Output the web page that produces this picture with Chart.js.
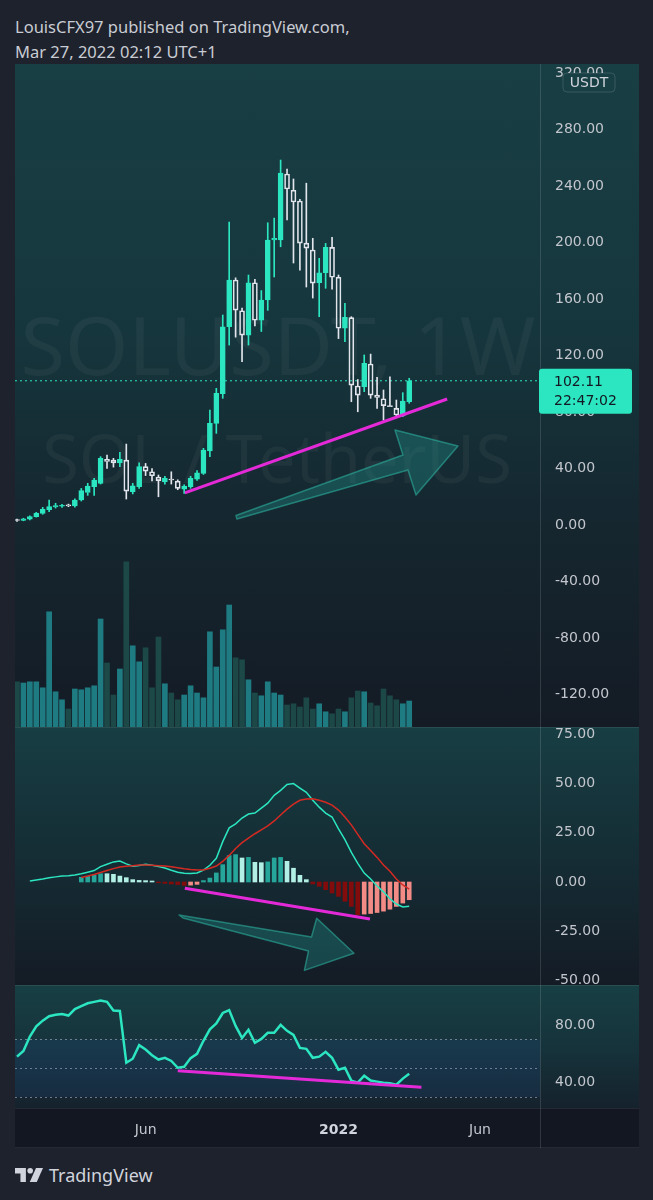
<!DOCTYPE html>
<html>
<head>
<meta charset="utf-8">
<title>SOLUSDT 1W</title>
<script src="https://cdn.jsdelivr.net/npm/chart.js@4.4.1/dist/chart.umd.min.js"></script>
<style>
  html, body { margin: 0; padding: 0; }
  body { width: 653px; height: 1200px; background: #1e222d; position: relative; overflow: hidden; font-family: 'Noto Sans', sans-serif; }
  #header { position: absolute; left: 15px; top: 14px; color: #c9ccd3; font-size: 16.5px; line-height: 25px; }
  .bg { position: absolute; left: 15px; width: 624px; }
  #priceBg { top: 64px; height: 663px; background: linear-gradient(180deg, #183f44 0%, #16363d 40%, #15262f 70%, #141b25 100%); }
  #macdBg { top: 727px; height: 258px; background: linear-gradient(180deg, #173e43 0%, #152d35 50%, #141b25 100%); }
  #rsiBg { top: 985px; height: 123px; background: linear-gradient(180deg, #173f43 0%, #16333b 50%, #15222d 100%); }
  #timeBg { top: 1108px; height: 40px; background: #131722; }
  .hline { position: absolute; left: 15px; width: 624px; height: 1px; background: rgba(255,255,255,0.08); }
  #vline { position: absolute; left: 540px; top: 64px; width: 1px; height: 1084px; background: rgba(255,255,255,0.13); }
  canvas { position: absolute; left: 15px; }
  #footer { position: absolute; left: 15px; top: 1161px; height: 28px; display: flex; align-items: center; color: #d1d4dc; font-size: 18px; }
  #footer svg { margin-right: 6px; }
</style>
</head>
<body>
<div id="header">LouisCFX97 published on TradingView.com,<br>Mar 27, 2022 02:12 UTC+1</div>

<div class="bg" id="priceBg"></div>
<div class="bg" id="macdBg"></div>
<div class="bg" id="rsiBg"></div>
<div class="bg" id="timeBg"></div>
<div class="hline" style="top:727px"></div>
<div class="hline" style="top:985px"></div>
<div class="hline" style="top:1108px"></div>
<div class="hline" style="top:1147px"></div>
<div id="vline"></div>

<canvas id="priceChart" width="624" height="663" style="top:64px"></canvas>
<canvas id="macdChart" width="624" height="258" style="top:727px"></canvas>
<canvas id="rsiChart" width="624" height="163" style="top:985px"></canvas>

<div id="footer">
  <svg width="28" height="14" viewBox="0 0 36 18">
    <path d="M0 0H14V18H7V7H0Z" fill="#d1d4dc"/>
    <circle cx="19.5" cy="3.6" r="3.6" fill="#d1d4dc"/>
    <path d="M27 0H36L28 18H19Z" fill="#d1d4dc"/>
  </svg>
  <span>TradingView</span>
</div>

<script>
// SOLUSDT weekly, index 0 = week of 18 Jan 2021, last = week of 21 Mar 2022
const opens  = [3.6, 3.3, 4.2, 5.9, 8.2, 10.8, 12.9, 13.3, 14.2, 13.5,
                17.7, 23.0, 27.1, 29.5, 46.5, 46.0, 44.0, 46.0, 23.6, 27.1,
                41.3, 37.7, 34.0, 30.7, 32.6, 31.1, 25.3, 27.1, 32.4, 36.6,
                52.4, 72.0, 93.0, 140.4, 173.5, 151.7, 134.5, 171.5, 145.0, 159.3,
                201.8, 201.8, 248.5, 237.0, 229.4, 199.6, 194.7, 171.5, 178.6, 196.6,
                175.4, 139.3, 146.8, 98.4, 97.9, 114.0, 92.0, 89.4, 84.5, 82.6,
                77.2, 87.3];
const highs  = [4.2, 4.8, 6.5, 9.0, 12.5, 17.7, 15.4, 14.7, 14.8, 18.5,
                25.9, 29.5, 33.0, 48.4, 49.6, 47.2, 51.5, 57.3, 29.5, 44.0,
                43.6, 40.0, 35.4, 34.5, 37.7, 32.0, 28.5, 34.5, 38.5, 54.3,
                81.4, 96.8, 148.7, 214.5, 175.0, 153.6, 177.0, 174.0, 166.0, 214.0,
                217.3, 258.4, 252.0, 245.0, 230.5, 242.0, 203.0, 188.8, 199.4, 203.7,
                177.0, 157.0, 147.5, 103.0, 120.4, 121.0, 104.6, 95.6, 105.0, 88.5,
                93.7, 103.9];
const lows   = [2.6, 3.0, 3.6, 5.6, 7.6, 9.5, 12.0, 12.5, 13.0, 12.7,
                17.0, 21.0, 21.0, 29.0, 40.0, 41.0, 41.3, 18.4, 22.0, 26.0,
                35.0, 31.3, 20.0, 29.0, 29.0, 25.0, 22.4, 26.0, 31.6, 35.8,
                48.4, 64.9, 89.7, 127.4, 133.0, 115.6, 127.4, 141.0, 137.0, 152.0,
                175.6, 197.0, 216.0, 185.5, 180.5, 168.5, 160.7, 147.5, 167.6, 166.9,
                132.0, 129.8, 87.3, 80.2, 94.4, 89.7, 82.6, 74.3, 83.8, 76.7,
                76.7, 86.2];
const closes = [3.2, 4.3, 5.9, 8.3, 11.1, 13.0, 13.8, 13.8, 13.5, 17.7,
                24.3, 27.6, 31.9, 47.2, 45.0, 43.9, 46.5, 24.0, 27.8, 41.3,
                38.2, 34.9, 31.4, 33.0, 31.9, 26.0, 27.6, 33.0, 37.0, 53.1,
                72.0, 93.2, 140.4, 173.5, 152.2, 134.5, 171.5, 145.0, 159.3, 201.8,
                203.0, 249.2, 237.9, 228.7, 199.6, 196.0, 171.3, 178.6, 196.6, 175.4,
                139.3, 147.0, 99.1, 92.0, 114.5, 92.0, 90.4, 84.5, 83.8, 77.9,
                87.8, 102.11];
// volume, millions of SOL
const volumesM = [11.3, 11.0, 11.3, 11.3, 9.8, 28.8, 8.8, 6.8, 4.5, 9.5,
                  9.3, 9.8, 10.3, 27.0, 16.0, 8.0, 14.5, 41.3, 20.3, 16.3,
                  19.8, 9.8, 22.5, 10.8, 8.5, 6.8, 8.0, 10.3, 8.5, 7.3,
                  23.8, 15.0, 24.3, 30.5, 17.3, 16.8, 11.8, 8.5, 7.8, 11.3,
                  8.5, 8.0, 5.5, 5.8, 5.0, 7.3, 4.5, 5.8, 3.8, 3.3,
                  4.5, 3.8, 7.3, 9.0, 8.8, 6.0, 5.3, 9.5, 7.8, 6.8,
                  5.8, 6.5];
const lastPrice = 102.11;
const countdown = '22:47:02';

// MACD (12, 26, 9)
const macdStart = 2;
const macdLine = [0.5, 1.0, 1.5, 2.1, 2.6, 3.0, 3.2, 3.5,
                  4.2, 5.0, 5.8, 7.8, 9.0, 10.2, 10.6, 9.2, 8.0, 8.4,
                  9.0, 8.5, 7.8, 7.1, 6.0, 5.0, 4.4, 4.3, 4.6, 6.0,
                  8.5, 12.0, 20.5, 27.5, 29.5, 32.5, 34.5, 35.0, 37.5, 40.0,
                  44.0, 46.5, 49.5, 50.0, 47.7, 45.5, 41.5, 38.0, 35.0, 33.0,
                  27.0, 21.5, 15.0, 9.5, 4.5, 1.5, -2.0, -5.0, -8.5, -11.2,
                  -12.7, -12.3];
const signalStart = 10;
const signalLine = [2.3, 3.0, 3.8, 4.8, 5.8, 6.8, 7.6, 8.0, 8.3, 8.6,
                    8.6, 8.5, 8.3, 8.1, 7.7, 7.2, 6.7, 6.3, 6.1, 6.1,
                    7.0, 8.1, 10.5, 13.5, 17.0, 20.0, 22.3, 24.5, 26.5, 28.5,
                    31.0, 34.0, 37.0, 39.5, 41.5, 42.1, 42.3, 41.5, 40.5, 39.0,
                    36.5, 33.0, 29.0, 24.2, 19.4, 16.0, 12.5, 8.6, 5.5, 1.5,
                    -1.5, -3.6];
const histStart = 10;
const histValues = [2.4, 2.9, 3.4, 4.2, 4.2, 3.9, 3.0, 2.2, 1.2, 0.8,
                    0.7, 0.5, -0.4, -0.7, -1.0, -1.3, -1.7, -1.6, -1.2, 0.7,
                    2.0, 4.6, 8.8, 13.4, 13.9, 12.2, 12.5, 10.0, 9.8, 10.2,
                    12.2, 12.5, 10.5, 7.0, 3.4, 1.2, -1.0, -2.2, -3.9, -5.6,
                    -7.3, -9.8, -12.4, -16.6, -16.3, -16.0, -15.5, -14.8, -13.8, -12.4,
                    -10.7, -9.0];

// RSI (14)
const rsiValues = [58, 62, 72, 79, 83, 86, 87, 87.6, 86.5, 91,
                   93, 95, 96, 97, 96, 90, 89.7, 53.8, 56.6, 66,
                   63, 59, 56, 57.2, 55, 50.3, 51, 57, 60, 69,
                   77, 81, 88.3, 90.3, 79.3, 71, 76.6, 67.6, 70.3, 74.5,
                   74.5, 80, 75.9, 73.1, 64.1, 63.4, 57.2, 58, 61.4, 57.2,
                   49, 50.3, 41.4, 40, 44.8, 41.4, 40.7, 40, 39.5, 38.6,
                   42.8, 46.2];
const rsiLevels = [70, 50, 30];

// axes
const priceTicks = [320, 280, 240, 200, 160, 120, 80, 40, 0, -40, -80, -120];
const macdTicks = [75, 50, 25, 0, -25, -50];
const rsiTicks = [80, 40];
const xTickPos = [20, 50, 72];
const xTickLabels = ['Jun', '2022', 'Jun'];
const xTickBold = [false, true, false];

// drawings (bar index, value)
const priceTrendX = [26.1, 66.9];
const priceTrendY = [22.7, 89.2];
const macdTrendX = [26.1, 54.9];
const macdTrendY = [-3.2, -18.8];
const rsiTrendX = [25.0, 62.9];
const rsiTrendY = [48.3, 36.8];
const arrowUpX = [34.06, 60.03, 58.79, 68.58, 62.05, 60.81, 34.21];
const arrowUpY = [6.73, 49.56, 67.26, 55.93, 21.24, 38.94, 4.25];
const arrowDownX = [25.19, 45.8, 46.61, 52.41, 44.70, 45.33, 25.82];
const arrowDownY = [-16.75, -27.9, -18.43, -36.19, -44.87, -35.03, -18.27];

const upColor = '#2be6c0';
const downColor = '#e2e5ec';
const magenta = '#e42ad8';
const labelColor = '#c3c6cd';
const xMin = -0.31, xMax = 81.34;

Chart.defaults.font.family = "'DejaVu Sans', sans-serif";
Chart.defaults.font.size = 14;
Chart.defaults.animation = false;
Chart.defaults.plugins.legend.display = false;
Chart.defaults.plugins.tooltip.enabled = false;

const idx = closes.map((c, i) => i);
const isUp = idx.map(i => closes[i] >= opens[i]);

function pts(xs, ys) {
    return xs.map((x, k) => ({ x: x, y: ys[k] }));
}

function series(start, values) {
    return values.map((v, k) => ({ x: start + k, y: v }));
}

function hiddenX() {
    return { type: 'linear', min: xMin, max: xMax, offset: false, display: false };
}

// label padding must not eat into the plot height
function noPadding(s) {
    s.paddingTop = 0;
    s.paddingBottom = 0;
    s.paddingLeft = 0;
    s.paddingRight = 0;
}

function rightAxis(min, max, ticks) {
    return {
        position: 'right',
        min: min,
        max: max,
        grid: { display: false, drawTicks: false },
        border: { display: false },
        afterBuildTicks: s => { s.ticks = ticks.map(v => ({ value: v })); },
        afterFit: s => { s.width = 99; noPadding(s); },
        ticks: { color: labelColor, padding: 15, autoSkip: false, callback: v => v.toFixed(2) }
    };
}

function roundBox(ctx, x, y, w, h, r) {
    ctx.beginPath();
    if (ctx.roundRect) ctx.roundRect(x, y, w, h, r);
    else ctx.rect(x, y, w, h);
}

function drawArrow(chart, yId, xs, ys) {
    const ctx = chart.ctx;
    const sx = chart.scales.x, sy = chart.scales[yId];
    ctx.save();
    ctx.beginPath();
    xs.forEach((v, k) => {
        const px = sx.getPixelForValue(v), py = sy.getPixelForValue(ys[k]);
        if (k === 0) ctx.moveTo(px, py); else ctx.lineTo(px, py);
    });
    ctx.closePath();
    ctx.fillStyle = 'rgba(38, 166, 154, 0.30)';
    ctx.fill();
    ctx.strokeStyle = 'rgba(45, 185, 165, 0.55)';
    ctx.lineWidth = 1.5;
    ctx.lineJoin = 'round';
    ctx.stroke();
    ctx.restore();
}

function fitText(ctx, text, cx, baseline, width) {
    ctx.font = "100px 'Noto Sans'";
    const size = 100 * width / ctx.measureText(text).width;
    ctx.font = size.toFixed(1) + "px 'Noto Sans'";
    ctx.fillText(text, cx, baseline);
}

const priceExtras = {
    id: 'priceExtras',
    beforeDatasetsDraw(chart) {
        const ctx = chart.ctx;
        ctx.save();
        ctx.fillStyle = 'rgba(255,255,255,0.045)';
        ctx.textAlign = 'center';
        ctx.textBaseline = 'alphabetic';
        fitText(ctx, 'SOLUSDT, 1W', 263, 311, 515);
        fitText(ctx, 'SOL / TetherUS', 262, 419, 470);
        ctx.restore();
        drawArrow(chart, 'y', arrowUpX, arrowUpY);
    },
    afterDraw(chart) {
        const ctx = chart.ctx;
        const y = chart.scales.y.getPixelForValue(lastPrice);
        ctx.save();
        roundBox(ctx, 524, y - 12, 93, 45, 3);
        ctx.fillStyle = upColor;
        ctx.fill();
        ctx.fillStyle = '#131722';
        ctx.font = "14px 'DejaVu Sans'";
        ctx.textBaseline = 'middle';
        ctx.textAlign = 'left';
        ctx.fillText(lastPrice.toFixed(2), 539, y + 2);
        ctx.fillText(countdown, 539, y + 21);
        roundBox(ctx, 548, 9, 52, 19, 4);
        ctx.fillStyle = '#183f44';
        ctx.fill();
        ctx.strokeStyle = 'rgba(255,255,255,0.14)';
        ctx.lineWidth = 1;
        ctx.stroke();
        ctx.fillStyle = '#d1d4dc';
        ctx.textAlign = 'center';
        ctx.fillText('USDT', 574, 19);
        ctx.restore();
    }
};

const macdExtras = {
    id: 'macdExtras',
    beforeDatasetsDraw(chart) {
        drawArrow(chart, 'y', arrowDownX, arrowDownY);
    }
};

const rsiExtras = {
    id: 'rsiExtras',
    beforeDatasetsDraw(chart) {
        const ctx = chart.ctx, a = chart.chartArea, sy = chart.scales.y;
        const top = sy.getPixelForValue(rsiLevels[0]);
        const bottom = sy.getPixelForValue(rsiLevels[2]);
        ctx.save();
        ctx.fillStyle = 'rgba(45, 95, 200, 0.12)';
        ctx.fillRect(a.left, top, a.right - a.left, bottom - top);
        ctx.strokeStyle = 'rgba(185, 190, 200, 0.55)';
        ctx.lineWidth = 1;
        ctx.setLineDash([2, 3]);
        rsiLevels.forEach(v => {
            const py = Math.round(sy.getPixelForValue(v)) + 0.5;
            ctx.beginPath();
            ctx.moveTo(a.left, py);
            ctx.lineTo(a.right, py);
            ctx.stroke();
        });
        ctx.restore();
    }
};

// price pane: candles + volume
new Chart(document.getElementById('priceChart'), {
    type: 'bar',
    data: {
        datasets: [
            { type: 'line', data: pts(priceTrendX, priceTrendY), borderColor: magenta, borderWidth: 3, pointRadius: 0, order: 0 },
            { data: idx.map(i => ({ x: i, y: [opens[i], closes[i]] })),
              backgroundColor: isUp.map(u => u ? upColor : 'rgba(0,0,0,0)'),
              borderColor: isUp.map(u => u ? upColor : downColor),
              borderWidth: 1, borderSkipped: false, barThickness: 5, minBarLength: 1, grouped: false, order: 1 },
            { data: idx.map(i => ({ x: i, y: [Math.max(opens[i], closes[i]), highs[i]] })),
              backgroundColor: isUp.map(u => u ? upColor : downColor), barThickness: 1, grouped: false, order: 2 },
            { data: idx.map(i => ({ x: i, y: [lows[i], Math.min(opens[i], closes[i])] })),
              backgroundColor: isUp.map(u => u ? upColor : downColor), barThickness: 1, grouped: false, order: 2 },
            { type: 'line', data: [{ x: xMin, y: lastPrice }, { x: xMax, y: lastPrice }],
              borderColor: upColor, borderWidth: 1, borderDash: [2, 3], pointRadius: 0, order: 5 },
            { data: idx.map(i => ({ x: i, y: volumesM[i] })), yAxisID: 'yv',
              backgroundColor: isUp.map(u => u ? '#1e7b82' : '#1c4848'), barThickness: 5, grouped: false, order: 10 }
        ]
    },
    options: {
        responsive: false,
        events: [],
        layout: { autoPadding: false, padding: 0 },
        scales: {
            x: hiddenX(),
            y: rightAxis(-143.0, 326.4, priceTicks),
            yv: { display: false, min: 0, max: 165.75 }
        }
    },
    plugins: [priceExtras]
});

// MACD pane
const histColors = histValues.map((v, k) => {
    const prev = k > 0 ? histValues[k - 1] : 0;
    if (v >= 0) return v > prev ? '#26a69a' : '#b2efe4';
    return v < prev ? '#820b0b' : '#f28b86';
});

new Chart(document.getElementById('macdChart'), {
    type: 'bar',
    data: {
        datasets: [
            { type: 'line', data: pts(macdTrendX, macdTrendY), borderColor: magenta, borderWidth: 3, pointRadius: 0, order: 0 },
            { type: 'line', data: series(signalStart, signalLine), borderColor: '#d42a22', borderWidth: 1.5, pointRadius: 0, order: 1 },
            { type: 'line', data: series(macdStart, macdLine), borderColor: upColor, borderWidth: 1.5, pointRadius: 0, order: 2 },
            { data: series(histStart, histValues), backgroundColor: histColors, barThickness: 4, grouped: false, order: 3 }
        ]
    },
    options: {
        responsive: false,
        events: [],
        layout: { autoPadding: false, padding: 0 },
        scales: {
            x: hiddenX(),
            y: rightAxis(-52.3, 78.7, macdTicks)
        }
    },
    plugins: [macdExtras]
});

// RSI pane + time axis
new Chart(document.getElementById('rsiChart'), {
    type: 'line',
    data: {
        datasets: [
            { data: pts(rsiTrendX, rsiTrendY), borderColor: magenta, borderWidth: 3, pointRadius: 0, order: 0 },
            { data: series(0, rsiValues), borderColor: upColor, borderWidth: 2.5, pointRadius: 0, order: 1 }
        ]
    },
    options: {
        responsive: false,
        events: [],
        layout: { autoPadding: false, padding: 0 },
        scales: {
            x: {
                type: 'linear', min: xMin, max: xMax, offset: false, position: 'bottom',
                grid: { display: false, drawTicks: false },
                border: { display: false },
                afterBuildTicks: s => { s.ticks = xTickPos.map(v => ({ value: v })); },
                afterFit: s => { s.height = 40; noPadding(s); },
                ticks: {
                    padding: 14, maxRotation: 0, autoSkip: false,
                    callback: (v, i) => xTickLabels[i],
                    color: c => xTickBold[c.index] ? '#d1d4dc' : labelColor,
                    font: c => ({ family: "'DejaVu Sans', sans-serif", size: 14, weight: xTickBold[c.index] ? 'bold' : 'normal' })
                }
            },
            y: rightAxis(22.4, 107.7, rsiTicks)
        }
    },
    plugins: [rsiExtras]
});
</script>
</body>
</html>
